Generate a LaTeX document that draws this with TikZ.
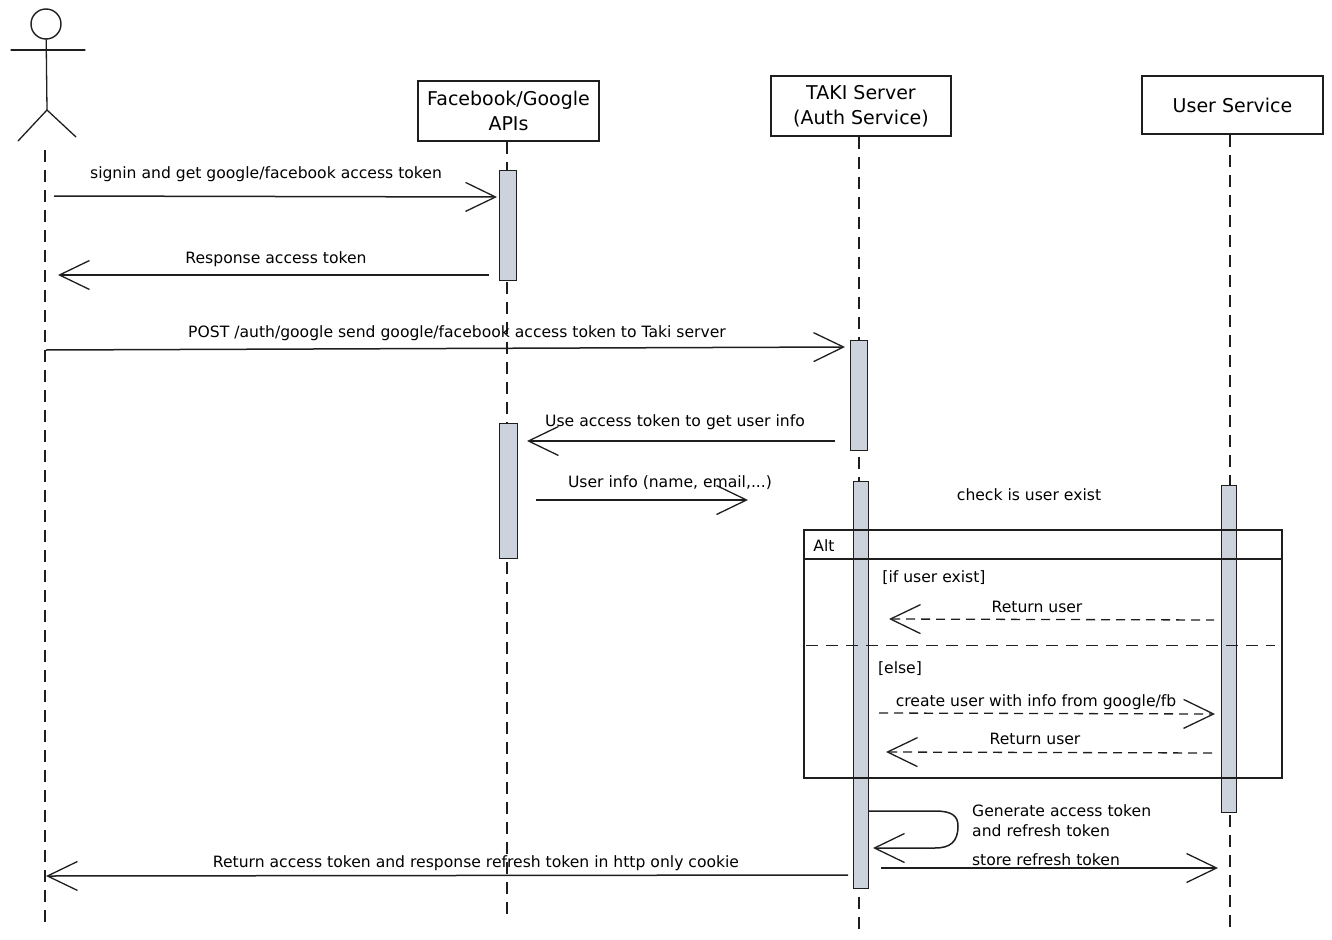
\documentclass[tikz,border=0pt]{standalone}
\usepackage{fontspec}
\setmainfont{DejaVu Sans}
\usetikzlibrary{arrows.meta,calc}
\definecolor{barfill}{HTML}{CDD3DC}
\definecolor{inkline}{HTML}{1E1E1E}
\newcommand{\msgfont}{\fontsize{15.6}{20}\selectfont}
\newcommand{\boxfont}{\fontsize{19}{25}\selectfont}

\begin{document}
\begin{tikzpicture}[
    x=1pt,y=-1pt,
    >={Straight Barb[length=30pt,width=29pt,line width=1.3pt]},
    linet/.style={line width=1.5pt,draw=inkline,->},
    backt/.style={line width=1.5pt,draw=inkline,<-},
    dasht/.style={linet,line width=1.3pt,dash pattern=on 9pt off 6pt},
    dbackt/.style={backt,line width=1.3pt,dash pattern=on 9pt off 6pt},
    lifet/.style={line width=1.2pt,draw=inkline,dash pattern=on 12pt off 8pt},
    punkt/.style={rectangle,draw=inkline,fill=white,line width=1.6pt,
      text=black,align=center,font=\boxfont,inner sep=0pt},
    activ/.style={rectangle,draw=inkline,fill=barfill,line width=1pt,
      inner sep=0pt,minimum width=#1},
    msg/.style={text=black,font=\msgfont,inner sep=0pt,align=left},
    limbt/.style={line width=1.3pt,draw=inkline,line cap=round}
  ]
  \useasboundingbox (0,0) rectangle (1332,939);

  % actor
  \path (46,24) node(head) [circle,draw=inkline,line width=1.4pt,
      minimum size=30pt,inner sep=0pt] {}
    (47,110) coordinate(hip)
    (11,50) coordinate(armL)
    (85,50) coordinate(armR)
    (18,141) coordinate(legL)
    (76,137) coordinate(legR);
  \draw[limbt] (head) -- (hip);
  \draw[limbt] (armL) -- (armR);
  \draw[limbt] (legL) -- (hip) -- (legR);

  % participants
  \path (508.5,111) node(apis) [punkt,minimum width=181pt,minimum height=60pt] {Facebook/Google\\APIs}
    (861,106) node(taki) [punkt,minimum width=180pt,minimum height=60pt] {TAKI Server\\(Auth Service)}
    (1232.5,105) node(users) [punkt,minimum width=181pt,minimum height=58pt] {User Service};

  % lifelines
  \path (45,150) coordinate(actTop)
    (45,925) coordinate(actEnd)
    (507,918) coordinate(apiEnd)
    (859,930) coordinate(takiEnd)
    (1230,930) coordinate(userEnd);
  \draw[lifet] (actTop) -- (actEnd);
  \draw[lifet] (apis.south -| apiEnd) -- (apiEnd);
  \draw[lifet] (taki.south -| takiEnd) -- (takiEnd);
  \draw[lifet] (users.south -| userEnd) -- (userEnd);

  % activation bars
  \path (507.5,225) node(barA) [activ=17pt,minimum height=110pt] {}
    (858.5,395) node(barB) [activ=17pt,minimum height=110pt] {}
    (508,490.5) node(barC) [activ=18pt,minimum height=135pt] {}
    (860.5,684.5) node(barD) [activ=15pt,minimum height=407pt] {}
    (1228.5,648.5) node(barE) [activ=15pt,minimum height=327pt] {};

  % alt frame
  \path (804,530) coordinate(altNW)
    (1282,530) coordinate(altNE)
    (804,778) coordinate(altSW)
    (1282,778) coordinate(altSE)
    (804,559) coordinate(headL)
    (1282,559) coordinate(headR)
    (806,645) coordinate(elseL)
    (1275,645) coordinate(elseR);
  \draw[line width=1.1pt,draw=inkline] (altNW) -- (altNE) -- (altSE) -- (altSW) -- cycle;
  \draw[line width=1.1pt,draw=inkline] (headL) -- (headR);
  \draw[line width=1pt,draw=inkline,dash pattern=on 12pt off 8pt] (elseL) -- (elseR);

  % message ends
  \path (54,196) coordinate(m1a) (497,197) coordinate(m1b)
    (58,275) coordinate(m2a) (489,275) coordinate(m2b)
    (46,350) coordinate(m3a) (845,347) coordinate(m3b)
    (527,441) coordinate(m4a) (835,441) coordinate(m4b)
    (536,500) coordinate(m5a) (748,500) coordinate(m5b)
    (889,619) coordinate(m6a) (1214,620) coordinate(m6b)
    (879,713) coordinate(m7a) (1215,714) coordinate(m7b)
    (886,752) coordinate(m8a) (1214,753) coordinate(m8b)
    (868,811) coordinate(m9a) (873,848) coordinate(m9b)
    (881,868) coordinate(m10a) (1218,868) coordinate(m10b)
    (46,876) coordinate(m11a) (848,875) coordinate(m11b);
  \draw[linet] (m1a) -- (m1b);
  \draw[backt] (m2a) -- (m2b);
  \draw[linet] (m3a) -- (m3b);
  \draw[backt] (m4a) -- (m4b);
  \draw[linet] (m5a) -- (m5b);
  \draw[dbackt] (m6a) -- (m6b);
  \draw[dasht] (m7a) -- (m7b);
  \draw[dbackt] (m8a) -- (m8b);
  \draw[linet] (m9a) -- (935,811) .. controls (952,811) and (958,816) .. (958,826)
    .. controls (958,842) and (950,848) .. (935,848) -- (m9b);
  \draw[linet] (m10a) -- (m10b);
  \draw[backt] (m11a) -- (m11b);

  % labels
  \path (266,174) node(t1) [msg] {signin and get google/facebook access token}
    (276,259) node(t2) [msg] {Response access token}
    (457,333) node(t3) [msg] {POST /auth/google send google/facebook access token to Taki server}
    (675,422) node(t4) [msg] {Use access token to get user info}
    (670,483) node(t5) [msg] {User info (name, email,...)}
    (1029,495) node(t6) [msg] {check is user exist}
    (824,546) node(t7) [msg] {Alt}
    (934,578) node(t8) [msg] {[if user exist]}
    (1037,607) node(t9) [msg] {Return user}
    (900,669) node(t10) [msg] {[else]}
    (1036,702) node(t11) [msg] {create user with info from google/fb}
    (1035,739) node(t12) [msg] {Return user}
    (972,821) node(t13) [msg,anchor=west] {Generate access token\\and refresh token}
    (1046,860) node(t14) [msg] {store refresh token}
    (476,863) node(t15) [msg] {Return access token and response refresh token in http only cookie};
\end{tikzpicture}
\end{document}
